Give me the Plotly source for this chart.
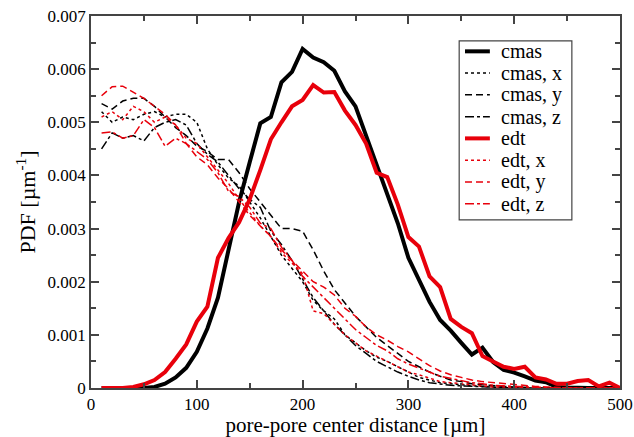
import plotly.graph_objects as go

x = list(range(10, 510, 10))

# values in units of 1e-3 per µm
cmas = [0, 0, 0, 0, 0, 0.02, 0.08, 0.2, 0.38, 0.68,
        1.12, 1.7, 2.62, 3.5, 4.25, 4.98, 5.1, 5.75, 5.95, 6.38,
        6.22, 6.13, 5.97, 5.58, 5.3, 4.75, 4.24, 3.67, 3.1, 2.45,
        2.05, 1.62, 1.28, 1.08, 0.85, 0.63, 0.76, 0.49, 0.34, 0.29,
        0.22, 0.14, 0.11, 0.02, 0.01, 0, 0, 0, 0, 0]
edt = [0, 0, 0, 0.02, 0.07, 0.15, 0.3, 0.55, 0.82, 1.25,
       1.53, 2.45, 2.82, 3.12, 3.55, 4.1, 4.68, 5.0, 5.3, 5.42,
       5.7, 5.56, 5.57, 5.22, 4.95, 4.6, 4.05, 3.97, 3.45, 2.84,
       2.66, 2.1, 1.9, 1.3, 1.15, 1.03, 0.6, 0.5, 0.4, 0.36,
       0.4, 0.2, 0.16, 0.08, 0.08, 0.13, 0.15, 0.03, 0.1, 0]
cmas_x = [5.2, 5.0, 5.1, 5.05, 5.15, 5.2, 5.1, 5.15, 5.15, 5.0,
          4.5, 4.2, 3.95, 3.8, 3.5, 3.2, 2.85, 2.5, 2.25, 2.0,
          1.65, 1.45, 1.3, 1.0, 0.85, 0.7, 0.58, 0.5, 0.4, 0.3,
          0.2, 0.15, 0.1, 0.08, 0.06, 0.04, 0.03, 0.02, 0.01, 0.01,
          0, 0, 0, 0, 0, 0, 0, 0, 0, 0]
cmas_y = [5.35, 5.25, 5.4, 5.45, 5.45, 5.3, 5.1, 4.9, 4.75, 4.55,
          4.45, 4.3, 4.3, 4.05, 3.75, 3.5, 3.25, 3.0, 3.0, 2.95,
          2.6, 2.2, 1.85, 1.6, 1.35, 1.15, 0.95, 0.8, 0.65, 0.5,
          0.4, 0.3, 0.22, 0.15, 0.12, 0.08, 0.06, 0.04, 0.03, 0.02,
          0.01, 0.01, 0, 0, 0, 0, 0, 0, 0, 0]
cmas_z = [4.5, 4.8, 4.7, 4.75, 4.65, 4.9, 5.0, 5.05, 4.95, 4.6,
          4.4, 4.25, 4.0, 3.75, 3.55, 3.4, 2.95, 2.7, 2.4, 2.05,
          1.7, 1.45, 1.2, 1.0, 0.8, 0.65, 0.5, 0.4, 0.3, 0.22,
          0.15, 0.1, 0.07, 0.05, 0.04, 0.03, 0.02, 0.01, 0.01, 0,
          0, 0, 0, 0, 0, 0, 0, 0, 0, 0]
edt_x = [5.1, 5.2, 5.05, 5.3, 5.2, 5.0, 5.1, 4.95, 4.7, 4.6,
         4.35, 4.1, 3.85, 3.55, 3.3, 3.05, 2.85, 2.55, 2.35, 2.15,
         1.45, 1.4, 1.2, 1.0, 0.85, 0.7, 0.6, 0.5, 0.4, 0.3,
         0.25, 0.18, 0.12, 0.1, 0.08, 0.05, 0.04, 0.02, 0.02, 0.01,
         0.01, 0, 0, 0, 0, 0, 0, 0, 0, 0]
edt_y = [5.5, 5.67, 5.68, 5.57, 5.45, 5.3, 5.15, 4.95, 4.6, 4.35,
         4.2, 3.95, 3.75, 3.5, 3.25, 3.05, 2.85, 2.6, 2.4, 2.2,
         2.0, 1.9, 1.75, 1.5, 1.35, 1.15, 1.0, 0.9, 0.78, 0.68,
         0.55, 0.42, 0.32, 0.25, 0.2, 0.15, 0.12, 0.1, 0.08, 0.06,
         0.05, 0.03, 0.02, 0.01, 0.01, 0, 0, 0, 0, 0]
edt_z = [4.8, 4.82, 4.7, 4.75, 5.05, 4.9, 4.55, 4.7, 4.6, 4.45,
         4.3, 4.05, 3.7, 3.6, 3.4, 3.1, 3.0, 2.65, 2.4, 2.1,
         1.9, 1.7, 1.5, 1.3, 1.1, 0.95, 0.8, 0.7, 0.55, 0.45,
         0.38, 0.3, 0.22, 0.18, 0.13, 0.1, 0.08, 0.05, 0.04, 0.03,
         0.02, 0.01, 0, 0, 0, 0, 0, 0, 0, 0]

y_tickvals = [0, 0.001, 0.002, 0.003, 0.004, 0.005, 0.006, 0.007]
y_ticktext = ["0", "0.001", "0.002", "0.003", "0.004", "0.005", "0.006", "0.007"]
x_tickvals = [0, 100, 200, 300, 400, 500]

RED = "#e8000b"
series = [
    ("cmas", cmas, "black", "solid", 4),
    ("cmas, x", cmas_x, "black", "dot", 1.5),
    ("cmas, y", cmas_y, "black", "7px,4px", 1.5),
    ("cmas, z", cmas_z, "black", "9px,3px,3px,3px", 1.5),
    ("edt", edt, RED, "solid", 4),
    ("edt, x", edt_x, RED, "dot", 1.5),
    ("edt, y", edt_y, RED, "7px,4px", 1.5),
    ("edt, z", edt_z, RED, "9px,3px,3px,3px", 1.5),
]

fig = go.Figure()
for name, vals, col, dash, w in series:
    fig.add_trace(go.Scatter(
        x=x, y=[v * 1e-3 for v in vals], mode="lines", name=name,
        line=dict(color=col, dash=dash, width=w), showlegend=False))

font_family = "Liberation Serif"

# hand-built legend box (paper coordinates)
L_X0, L_X1, L_Y0, L_Y1 = 0.696, 0.909, 0.452, 0.933
S_X0, S_X1, T_X = 0.707, 0.754, 0.771
ROW0, ROWSTEP = 0.905, 0.0585
shapes = [dict(type="rect", xref="paper", yref="paper", x0=L_X0, x1=L_X1, y0=L_Y0, y1=L_Y1,
               line=dict(color="#444", width=1.2), fillcolor="white", layer="above")]
annotations = []
for i, (name, vals, col, dash, w) in enumerate(series):
    yy = ROW0 - i * ROWSTEP
    shapes.append(dict(type="line", xref="paper", yref="paper", x0=S_X0, x1=S_X1, y0=yy, y1=yy,
                       line=dict(color=col, dash=dash, width=w), layer="above"))
    annotations.append(dict(xref="paper", yref="paper", x=T_X, y=yy, xanchor="left", yanchor="middle",
                            text=name, showarrow=False,
                            font=dict(family=font_family, size=20, color="black")))

axis_common = dict(
    showline=True, linecolor="#444", linewidth=1.5, mirror="allticks",
    ticks="inside", ticklen=8, tickcolor="#444", tickwidth=1.5,
    showgrid=False, zeroline=False, automargin=False,
    tickfont=dict(family=font_family, size=17, color="black"),
)
fig.update_layout(
    width=634, height=437,
    margin=dict(l=91, r=14, t=16, b=49),
    paper_bgcolor="white", plot_bgcolor="white",
    showlegend=False,
    shapes=shapes, annotations=annotations,
    xaxis=dict(range=[0, 500], tickvals=x_tickvals,
               minor=dict(ticks="inside", ticklen=5, dtick=50, tick0=0, tickcolor="#444", tickwidth=1.5),
               title=dict(text="pore-pore center distance [µm]",
                          font=dict(family=font_family, size=21, color="black"),
                          standoff=7),
               **axis_common),
    yaxis=dict(range=[0, 0.007], tickvals=y_tickvals, ticktext=y_ticktext,
               minor=dict(ticks="inside", ticklen=5, dtick=0.0005, tick0=0, tickcolor="#444", tickwidth=1.5),
               title=dict(text="PDF [µm<sup>-1</sup>]",
                          font=dict(family=font_family, size=22, color="black"),
                          standoff=6),
               **axis_common),
)

fig.write_html("out.html")
